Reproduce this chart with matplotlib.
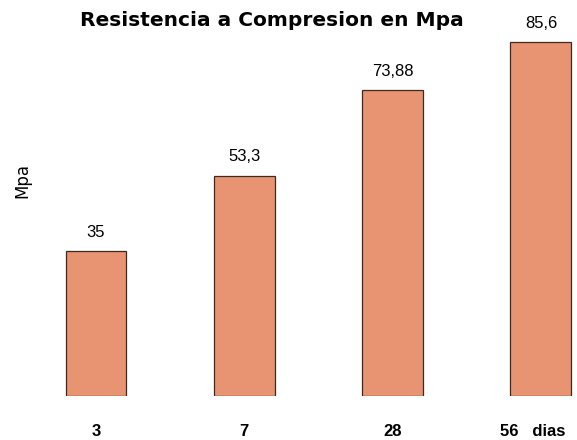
import matplotlib
matplotlib.use("Agg")
import matplotlib.pyplot as plt
from matplotlib.transforms import ScaledTranslation

dias = ["3", "7", "28", "56"]
mpa = [35, 53.3, 73.88, 85.6]
etiquetas = ["35", "53,3", "73,88", "85,6"]

fig = plt.figure(figsize=(5.77, 4.40), dpi=100)
# axes placed in pixel terms: left 40px, right edge 577px, bottom 396px, top 30px
ax = fig.add_axes([40 / 577, 44 / 440, 537 / 577, 366 / 440])

x = range(len(dias))
bars = ax.bar(x, mpa, width=0.41, color="#E89472", edgecolor="#3a2a20", linewidth=0.9)

step = 148.3
ax.set_xlim((40 - 96) / step, (577 - 96) / step)
ax.set_ylim(0, 366 / 4.136)

for b, t in zip(bars, etiquetas):
    ax.annotate(t, (b.get_x() + b.get_width() / 2, b.get_height()),
                xytext=(0, 8), textcoords="offset points", ha="center", va="bottom",
                fontsize=12, family="Liberation Sans", annotation_clip=False)

for s in ax.spines.values():
    s.set_visible(False)
ax.set_yticks([])
ax.set_xticks(list(x))
ax.set_xticklabels(dias[:-1] + [dias[-1] + "   dias"], fontsize=12, fontweight="bold",
                   family="Liberation Sans")
ax.tick_params(axis="x", length=0, pad=20)
# shift the last label left so it stays inside the figure
lbl = ax.get_xticklabels()[-1]
lbl.set_transform(lbl.get_transform() + ScaledTranslation(-8 / 100, 0, fig.dpi_scale_trans))

fig.text(22 / 577, 1 - 180 / 440, "Mpa", rotation=90, ha="center", va="center", fontsize=12)
fig.text(272 / 577, 1 - 20 / 440, "Resistencia a Compresion en Mpa", ha="center", va="center",
         fontsize=14.5, fontweight="bold")

fig.savefig("out.png", dpi=100)
